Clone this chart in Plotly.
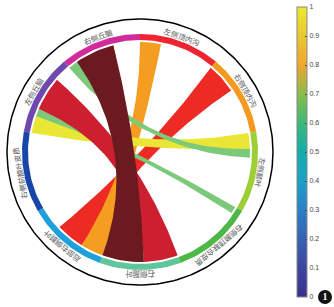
import numpy as np
import plotly.graph_objects as go

CX, CY, RX = 140, 152, 133  # pixel geometry of the circle

region_labels = ["右侧丘脑", "左侧顶内沟", "右侧顶内沟", "左侧颞叶", "右侧颞顶联合皮质",
                 "右侧颞叶", "后部右侧颞叶", "右侧前额叶皮质", "左侧丘脑"]
region_colors = ["#d12a9a", "#ee2430", "#f59a20", "#9bcf35", "#4db848",
                 "#5fc59a", "#1f9fdc", "#1746a8", "#6f48ae"]
region_starts = [130, 90, 50, 10, -30, -70, -110, -150, 170]

rib_a1 = [34, 79, 161, 125, 157, 139, 104]
rib_a2 = [50, 90, 170, 130, 161, 157, 125]
rib_b1 = [-137, -122, 1.6, -3, -34, -88, -110]
rib_b2 = [-122, -110, 10, 1.6, -30, -70, -88]
rib_pull = [2, 1, 1, 1, 1, 1, 1]
rib_col = ["#ee2a24", "#f59d20", "#e9e635", "#7cc97a", "#7cc97a", "#cc2030", "#6b1a1f"]

cb_ticks = [0, 0.1, 0.2, 0.3, 0.4, 0.5, 0.6, 0.7, 0.8, 0.9, 1]
cb_stops = [[0, "#3a2f8f"], [0.15, "#3b52a8"], [0.3, "#2a7fc8"], [0.4, "#1f9fc8"], [0.5, "#12aeaa"],
            [0.6, "#3cb878"], [0.7, "#88be4a"], [0.8, "#f0a62e"], [0.9, "#e8c832"], [1, "#ece82e"]]

W, H = 334, 307
fig = go.Figure()
fig.update_layout(width=W, height=H, margin=dict(l=0, r=0, t=0, b=0, autoexpand=False), paper_bgcolor="white",
                  plot_bgcolor="white", showlegend=False,
                  xaxis=dict(range=[0, W], visible=False, domain=[0, 1]),
                  yaxis=dict(range=[H, 0], visible=False, domain=[0, 1]))


def pt(r, deg):
    a = np.radians(deg)
    return CX + r * np.cos(a), CY - r * np.sin(a)


def arc(r, d1, d2, n=40):
    t = np.linspace(d1, d2, n)
    return CX + r * np.cos(np.radians(t)), CY - r * np.sin(np.radians(t))


def bez(d1, d2, pull=1.0, r=110, n=60):
    x0, y0 = pt(r, d1)
    x2, y2 = pt(r, d2)
    cx = pull * CX + (1 - pull) * (x0 + x2) / 2
    cy = pull * CY + (1 - pull) * (y0 + y2) / 2
    t = np.linspace(0, 1, n)
    return ((1 - t) ** 2 * x0 + 2 * t * (1 - t) * cx + t ** 2 * x2,
            (1 - t) ** 2 * y0 + 2 * t * (1 - t) * cy + t ** 2 * y2)


# ribbons
for a1, a2, b1, b2, pull, col in zip(rib_a1, rib_a2, rib_b1, rib_b2, rib_pull, rib_col):
    ax, ay = arc(110, a1, a2, 12)
    e1x, e1y = bez(a2, b1, pull)
    bx, by = arc(110, b1, b2, 12)
    e2x, e2y = bez(b2, a1)
    fig.add_trace(go.Scatter(x=np.r_[ax, e1x, bx, e2x], y=np.r_[ay, e1y, by, e2y], mode="lines",
                             fill="toself", fillcolor=col, line=dict(width=0), hoverinfo="skip"))

# ring segments and labels
for lab, col, s in zip(region_labels, region_colors, region_starts):
    ox, oy = arc(118, s, s - 40, 30)
    ix, iy = arc(112, s - 40, s, 30)
    fig.add_trace(go.Scatter(x=np.r_[ox, ix], y=np.r_[oy, iy], mode="lines", fill="toself",
                             fillcolor=col, line=dict(width=0), hoverinfo="skip"))
    mid = s - 20
    lx, ly = pt(122.5, mid)
    fig.add_annotation(x=lx, y=ly, text=lab, showarrow=False, textangle=90 - mid,
                       font=dict(size=7.5, family="Noto Sans CJK SC", color="#555555"))

# outer ring
ox, oy = arc(RX, 0, 360, 240)
fig.add_trace(go.Scatter(x=ox, y=oy, mode="lines", line=dict(color="black", width=1.5), hoverinfo="skip"))

# colour bar
fig.add_trace(go.Scatter(x=[None], y=[None], mode="markers", hoverinfo="skip",
                         marker=dict(color=[0, 1], cmin=0, cmax=1, colorscale=cb_stops, showscale=True,
                                     colorbar=dict(x=297 / W, xanchor="left", y=1 - 297 / H, yanchor="bottom",
                                                   len=290 / H, lenmode="fraction", thickness=10,
                                                   thicknessmode="pixels", tickvals=cb_ticks,
                                                   ticktext=[str(v) for v in cb_ticks], ticks="inside",
                                                   ticklen=2, outlinewidth=1, outlinecolor="#888888",
                                                   tickfont=dict(size=7, color="#444444", family="Liberation Sans"),
                                                   xpad=0, ypad=0))))

# badge
fig.add_trace(go.Scatter(x=[325], y=[297], mode="markers+text", text=["<b>1</b>"], textposition="middle center",
                         textfont=dict(size=10, color="white", family="Liberation Serif"), cliponaxis=False,
                         marker=dict(size=14, color="#111111", line=dict(width=0)), hoverinfo="skip"))

fig.write_html("out.html", config={"displayModeBar": False},
               post_script="document.body.style.margin='0';document.documentElement.style.overflow='hidden';")
